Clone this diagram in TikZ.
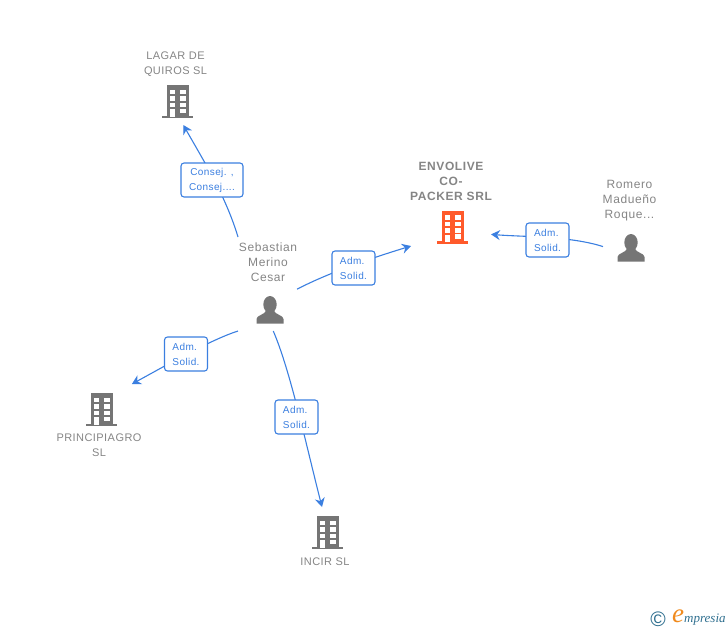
\documentclass[tikz,border=0pt]{standalone}
\usepackage{fontspec}
\setmainfont{Liberation Sans}
\newfontfamily\logofont{Liberation Serif}
\usetikzlibrary{arrows.meta}
\definecolor{linkblue}{HTML}{3B7FE0}
\definecolor{labelgray}{HTML}{858585}
\definecolor{icongray}{HTML}{757575}
\definecolor{iconorange}{HTML}{FF5A2B}
\definecolor{logoteal}{HTML}{2F6F8F}
\definecolor{logoorange}{HTML}{F08A1D}
\tikzset{
  x=1pt,y=-1pt,
  conn/.style={draw=linkblue,line width=1.1pt,-{Stealth[length=9pt,width=10pt,inset=3pt]}},
  rolebox/.style={draw=linkblue,fill=white,rounded corners=3pt,line width=1.1pt,minimum width=43pt,minimum height=34pt,inner sep=0pt,align=left,text=linkblue,font=\fontsize{10}{15}\selectfont\addfontfeatures{LetterSpace=4}},
  zone/.style={inner sep=0pt,outer sep=0pt,rectangle},
  lab/.style={inner sep=0pt,align=center,text=labelgray,font=\fontsize{11}{15}\selectfont\addfontfeatures{LetterSpace=4}},
  labperson/.style={inner sep=0pt,align=center,text=labelgray,font=\fontsize{12}{15}\selectfont\addfontfeatures{LetterSpace=5}},
  labmain/.style={inner sep=0pt,align=center,text=labelgray,font=\fontsize{12}{15}\selectfont\bfseries\addfontfeatures{LetterSpace=5}},
  building/.pic={
    \fill[#1] (-11,-16.5) rectangle (11,15);
    \fill[#1] (-15.5,14) rectangle (15.5,16.5);
    \foreach \yy in {-12,-5.5,1}{
      \fill[white] (-8,\yy) rectangle (-2.5,\yy+4.8);
      \fill[white] (2.5,\yy) rectangle (8,\yy+4.8);
    }
    \fill[white] (2.5,7) rectangle (8,11.5);
    \fill[white] (-8,7.5) rectangle (-2.5,15);
  },
  person/.pic={
    \fill[icongray] (0,-5.5) ellipse (6.7 and 8.5);
    \fill[icongray] (-13.5,13.5) -- (-13.5,9) .. controls (-13.5,5) and (-5,5) .. (-3.5,0) -- (3.5,0) .. controls (5,5) and (13.5,5) .. (13.5,9) -- (13.5,13.5) -- cycle;
  }
}
\begin{document}
\begin{tikzpicture}
\useasboundingbox (0,0) rectangle (728,630);
% invisible zones enclosing each label + icon
\node[zone,minimum width=62pt,minimum height=75pt] (lagar) at (176,87.5) {};
\node[zone,minimum width=80pt,minimum height=88pt] (envolve) at (451,202) {};
\node[zone,minimum width=57pt,minimum height=84pt] (romero) at (631.5,220) {};
\node[zone,minimum width=59pt,minimum height=94pt] (seb) at (267.5,284) {};
\node[zone,minimum width=90pt,minimum height=76pt] (princ) at (100,422) {};
\node[zone,minimum width=60pt,minimum height=62pt] (incir) at (322,538) {};
% icons
\pic at (177.5,101.5) {building=icongray};
\pic at (452.5,227) {building=iconorange};
\pic at (101.5,409.5) {building=icongray};
\pic at (327.5,532.5) {building=icongray};
\pic at (270,310) {person};
\pic at (631,248) {person};
% labels
\node[lab] (lagarlab) at (175.5,64) {LAGAR DE\\QUIROS SL};
\node[labmain] (envlab) at (451,181) {ENVOLIVE\\CO-\\PACKER SRL};
\node[labperson] (romlab) at (629.5,200.5) {Romero\\Madueño\\Roque...};
\node[labperson] (seblab) at (268,262) {Sebastian\\Merino\\Cesar};
\node[lab] (princlab) at (99,445.5) {PRINCIPIAGRO\\SL};
\node[lab] (incirlab) at (325,562) {INCIR SL};
% connectors
\draw[conn] (seb.north west) .. controls (226,197) and (205,163) .. (lagar.-79);
\draw[conn] (seb.-10) .. controls (330,272) and (375,257) .. (envolve.south west);
\draw[conn] (romero.223.5) .. controls (570,236) and (525,237) .. (envolve.-39.5);
\draw[conn] (seb.south west) .. controls (210,340) and (165,366) .. (princ.50);
\draw[conn] (seb.-83) .. controls (290,370) and (305,440) .. (incir.north);
% boxes
\node[rolebox,minimum width=62pt,align=center] (b1) at (212,180) {Consej. ,\\Consej....};
\node[rolebox] (b2) at (353.5,268) {Adm.\\Solid.};
\node[rolebox] (b3) at (547.5,240) {Adm.\\Solid.};
\node[rolebox] (b4) at (186,354) {Adm.\\Solid.};
\node[rolebox] (b5) at (296.5,417) {Adm.\\Solid.};
% logo
\node[inner sep=0pt,text=logoteal,font=\fontsize{21}{21}\selectfont] (copy) at (658,619) {©};
\node[inner sep=0pt,text=logoorange,font=\logofont\itshape\fontsize{27}{27}\selectfont] (loge) at (678,616) {e};
\node[inner sep=0pt,anchor=west,text=logoteal,font=\logofont\itshape\fontsize{13}{13}\selectfont] (logt) at (684,620) {mpresia};
\end{tikzpicture}
\end{document}
